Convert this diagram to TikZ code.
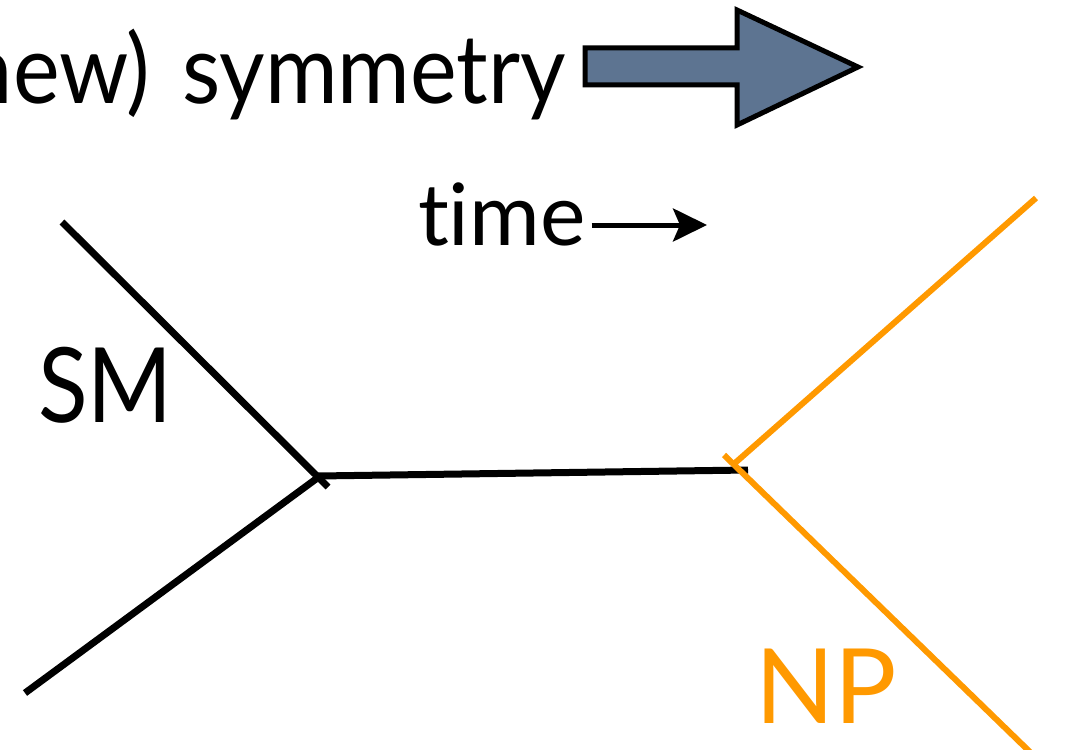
\documentclass[tikz,border=0pt]{standalone}
\usepackage{fontspec}
\setmainfont[Ligatures={NoCommon}]{Lato}
\newfontfamily\narrowsans[Ligatures={NoCommon}, FakeStretch=0.92]{Lato}
\newfontfamily\smsans[FakeStretch=0.88]{Lato}
\usetikzlibrary{arrows.meta}
\definecolor{npOrange}{HTML}{FF9900}
\definecolor{slateBlue}{HTML}{5D7491}
\tikzset{
  smline/.style={line width=7pt, black, line cap=butt},
  npline/.style={line width=6pt, npOrange, line cap=butt},
  label/.style={inner sep=0pt, outer sep=0pt},
  bigarrow/.style={fill=slateBlue, draw=black, line width=5pt, line join=miter},
}
\begin{document}
\begin{tikzpicture}[x=1pt, y=-1pt]
  \useasboundingbox (0,0) rectangle (1075,749);
  \clip (0,0) rectangle (1075,749);

  % headline with the block arrow
  \node[label, anchor=base east, font=\narrowsans\fontsize{96}{100}\selectfont] (sym) at (566,103) {new)\kern9pt\ symmetry};
  \draw[bigarrow] (585,48) -- (737,48) -- (737,10) -- (858,67) -- (737,125) -- (737,85) -- (585,85) -- cycle;

  % time direction
  \node[label, anchor=base west, font=\fontsize{86}{90}\selectfont] (time) at (418,245) {t\kern0pt ime};
  \coordinate (tend) at (707,225);
  \draw[line width=5pt, -{Stealth[length=34pt, width=33pt, inset=7pt]}] (time.east |- tend) ++(6,0) -- (tend);

  % vertices and external legs
  \coordinate (smA) at (62,222);
  \coordinate (smB) at (328,487);
  \coordinate (smC) at (25,693);
  \coordinate (smD) at (316,479);
  \coordinate (v1) at (318,476);
  \coordinate (v2) at (748,470);
  \coordinate (npA) at (724,455);
  \coordinate (npB) at (1030,752);
  \coordinate (npC) at (1036,198);
  \coordinate (npD) at (735,463);

  \draw[smline] (smA) -- (smB);
  \draw[smline] (smC) -- (smD);
  \draw[smline] (v1) -- (v2);
  \draw[npline] (npA) -- (npB);
  \draw[npline] (npC) -- (npD);

  \node[label, anchor=base west, font=\smsans\fontsize{104}{110}\selectfont] (sm) at (38,422) {SM};
  \node[label, anchor=base west, font=\fontsize{104}{110}\selectfont, text=npOrange] (np) at (755,723) {NP};
\end{tikzpicture}
\end{document}
